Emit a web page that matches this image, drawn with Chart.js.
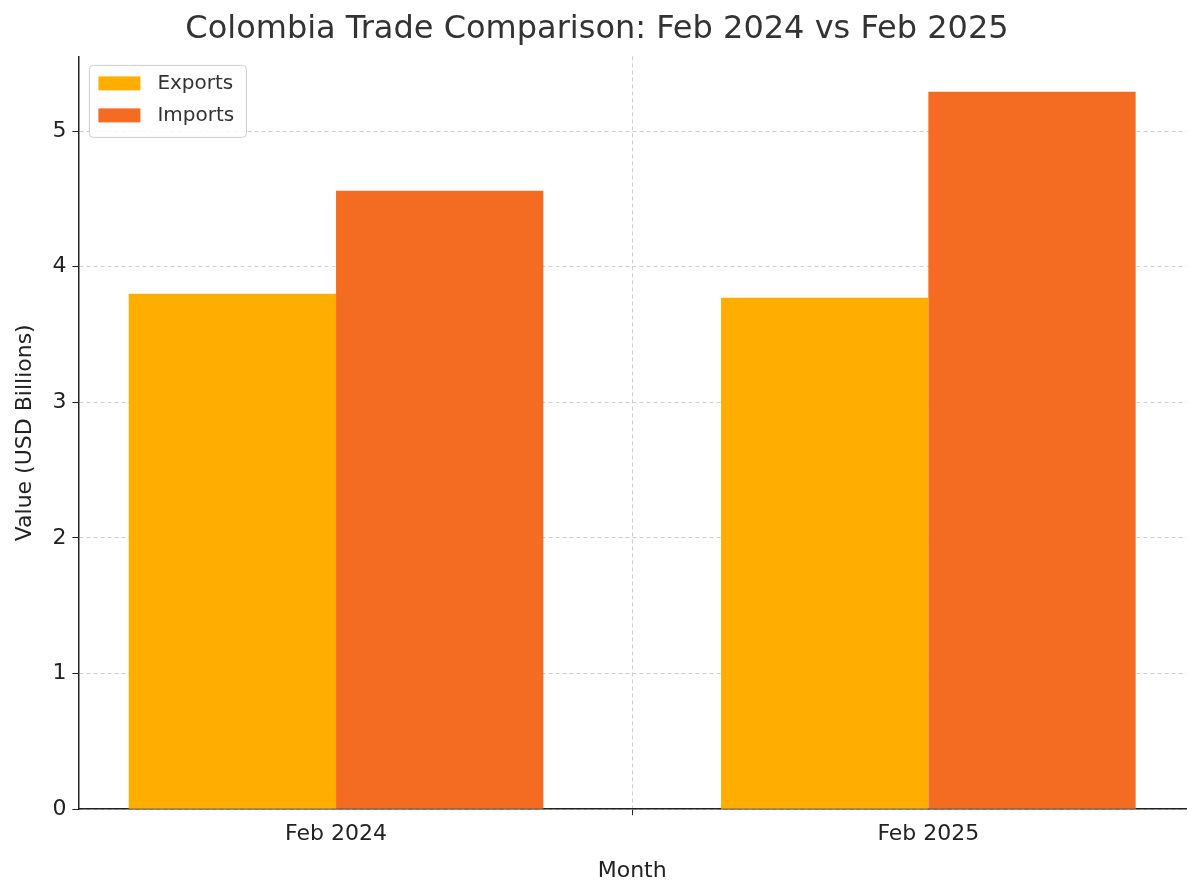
<!DOCTYPE html>
<html>
<head>
<meta charset="utf-8">
<script src="https://cdn.jsdelivr.net/npm/chart.js@4.4.1/dist/chart.umd.min.js"></script>
<style>
  html, body { margin: 0; padding: 0; background: #fff; }
  #wrap { width: 1200px; height: 896px; }
</style>
</head>
<body>
<div id="wrap"><canvas id="chart" width="1200" height="896"></canvas></div>
<script>
const months = ['Feb 2024', 'Feb 2025'];
const exportsValues = [3.80, 3.77];
const importsValues = [4.56, 5.29];
const seriesNames = ['Exports', 'Imports'];
const seriesColors = ['#FFAE00', '#F46B22'];
const yTicks = [0, 1, 2, 3, 4, 5];

const FONT = 'DejaVu Sans';
Chart.defaults.font.family = FONT;
Chart.defaults.color = '#222';

// legend box in the upper left of the plot, like the reference
const insideLegend = {
  id: 'insideLegend',
  afterDraw(chart) {
    const { ctx, chartArea } = chart;
    const x = chartArea.left + 11, y = chartArea.top + 9;
    ctx.save();
    ctx.fillStyle = 'rgba(255,255,255,0.85)';
    ctx.strokeStyle = '#ccc';
    ctx.lineWidth = 1;
    ctx.beginPath();
    ctx.roundRect(x, y, 157, 72, 4);
    ctx.fill();
    ctx.stroke();
    ctx.font = '20px ' + FONT;
    ctx.textBaseline = 'middle';
    seriesNames.forEach((name, i) => {
      const cy = y + 18 + i * 32;
      ctx.fillStyle = seriesColors[i];
      ctx.fillRect(x + 9, cy - 7, 42, 14);
      ctx.fillStyle = '#333';
      ctx.fillText(name, x + 68, cy);
    });
    ctx.restore();
  }
};

new Chart(document.getElementById('chart'), {
  type: 'bar',
  data: {
    datasets: [
      { label: seriesNames[0], data: exportsValues.map((v, i) => ({ x: i, y: v })), backgroundColor: seriesColors[0] },
      { label: seriesNames[1], data: importsValues.map((v, i) => ({ x: i, y: v })), backgroundColor: seriesColors[1] }
    ]
  },
  options: {
    responsive: false,
    animation: false,
    categoryPercentage: 0.7,
    barPercentage: 1.0,
    layout: { padding: { left: 8, right: 14, top: 4, bottom: 8 } },
    plugins: {
      legend: { display: false },
      tooltip: { enabled: false },
      title: {
        display: true,
        text: 'Colombia Trade Comparison: Feb 2024 vs Feb 2025',
        color: '#333',
        font: { size: 32, weight: 'normal' },
        padding: { top: 6, bottom: 8 }
      }
    },
    scales: {
      x: {
        type: 'linear',
        min: -0.435,
        max: 1.435,
        offset: false,
        afterBuildTicks: axis => { axis.ticks = months.map((m, i) => ({ value: i })); },
        ticks: { callback: v => months[v], font: { size: 22 }, color: '#222', padding: 6 },
        grid: { color: '#ccc', tickColor: '#222', tickLength: 6, drawOnChartArea: true },
        border: { color: '#222', width: 1.5, dash: [4, 3] },
        title: { display: true, text: 'Month', font: { size: 22 }, color: '#222', padding: { top: 4 } }
      },
      y: {
        min: 0,
        max: 5.55,
        afterBuildTicks: axis => { axis.ticks = yTicks.map(v => ({ value: v })); },
        ticks: { font: { size: 22 }, color: '#222', padding: 6 },
        grid: { color: '#ccc', tickColor: '#222', tickLength: 6 },
        border: { color: '#222', width: 1.5, dash: [4, 3] },
        title: { display: true, text: 'Value (USD Billions)', font: { size: 22 }, color: '#222', padding: { bottom: 8 } }
      }
    }
  },
  plugins: [insideLegend]
});
</script>
</body>
</html>
